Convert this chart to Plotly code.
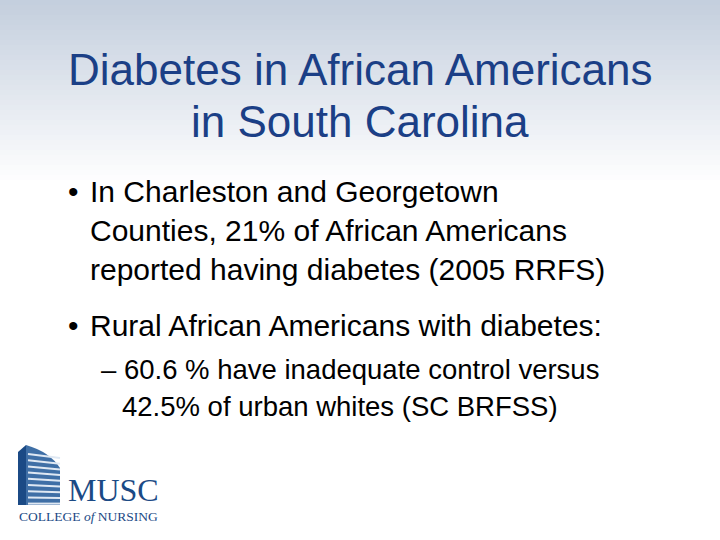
import plotly.graph_objects as go
import numpy as np

title_lines = ["Diabetes in African Americans", "in South Carolina"]
bullet1_lines = ["In Charleston and Georgetown", "Counties, 21% of African Americans",
                 "reported having diabetes (2005 RRFS)"]
bullet2_lines = ["Rural African Americans with diabetes:"]
sub_lines = ["– 60.6 % have inadequate control versus", "42.5% of urban whites (SC BRFSS)"]

W, H = 720, 540
def py(p): return 1 - p / H
def px(p): return p / W

fig = go.Figure()
ys = np.linspace(-0.05, 1.05, 120)
z = [[max(0.0, (y - 0.66) / 0.34)] * 2 for y in ys]
fig.add_trace(go.Heatmap(x=[-1, 2], y=ys, z=z, showscale=False, hoverinfo="skip",
                         colorscale=[[0, "#ffffff"], [1, "#c3cedd"]], zmin=0, zmax=1))

ann = []
FONT = "Liberation Sans, Arial"
def A(x, y, t, size, color="#000", anchor="left", fam=FONT):
    ann.append(dict(x=x, y=y, text=t, showarrow=False, xanchor=anchor, yanchor="middle",
                    font=dict(family=fam, size=size, color=color)))

for i, t in enumerate(title_lines):
    A(0.5, py(69 + 52 * i), t, 44, "#1b3f86", "center")
A(px(66), py(191), "•", 30)
for i, t in enumerate(bullet1_lines):
    A(px(88), py(191 + 39 * i), t, 30)
A(px(66), py(325), "•", 30)
for i, t in enumerate(bullet2_lines):
    A(px(88), py(325 + 39 * i), t, 30)
A(px(99), py(369), sub_lines[0], 27.5)
A(px(120), py(406), sub_lines[1], 27.5)
A(px(66), py(490), "MUSC", 32, "#1b4a85", fam="Liberation Serif")
A(px(17), py(516), "COLLEGE <i>of</i> NURSING", 13.5, "#1b4a85", fam="Liberation Serif")

shapes = []
shapes.append(dict(type="path", xref="paper", yref="paper",
                   path=f"M {px(18)} {py(505)} L {px(18)} {py(452)} L {px(26)} {py(445)} L {px(26)} {py(505)} Z",
                   fillcolor="#1b4a85", line=dict(width=0)))
shapes.append(dict(type="path", xref="paper", yref="paper",
                   path=f"M {px(26)} {py(505)} L {px(26)} {py(445)} Q {px(50)} {py(452)} {px(60)} {py(468)} L {px(60)} {py(505)} Z",
                   fillcolor="#3f6fa6", line=dict(width=0)))
for k in range(9):
    yy = 452 + k * 6
    shapes.append(dict(type="line", xref="paper", yref="paper", x0=px(28), x1=px(60),
                       y0=py(yy + 2 + k * 0.2), y1=py(yy + 6 - k * 0.3),
                       line=dict(color="#dfe8f3", width=2)))

fig.update_layout(width=W, height=H, margin=dict(l=0, r=0, t=0, b=0),
                  xaxis=dict(visible=False, range=[0, 1], fixedrange=True),
                  yaxis=dict(visible=False, range=[0, 1], fixedrange=True),
                  plot_bgcolor="white", paper_bgcolor="white",
                  annotations=ann, shapes=shapes)
fig.write_html("out.html", config={"displayModeBar": False},
               post_script="document.body.style.margin='0';")
